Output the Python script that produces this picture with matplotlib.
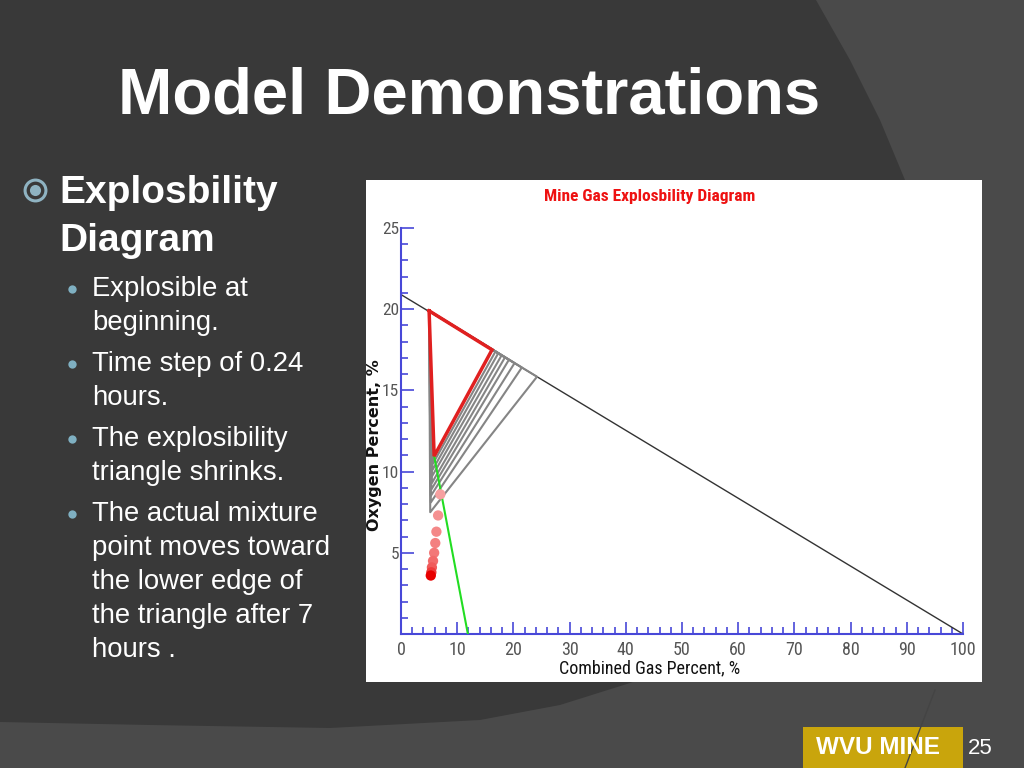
import matplotlib
matplotlib.use("Agg")
import matplotlib.pyplot as plt
from matplotlib import font_manager as fm
from matplotlib.patches import Polygon, Rectangle
from matplotlib.ticker import MultipleLocator, FixedLocator

# ---------------- data ----------------
air_x = [0, 100]
air_y = [20.9, 0]

top_vertex = (5.0, 19.9)
red_right = (16.2, 17.5)
red_nose = (5.9, 10.95)

gray_right_x = [16.8, 17.3, 17.9, 18.5, 19.2, 20.2, 21.5, 24.2]
gray_nose_x = [5.7, 5.6, 5.5, 5.5, 5.4, 5.3, 5.3, 5.2]
gray_nose_y = [10.5, 10.1, 9.7, 9.3, 8.9, 8.5, 8.1, 7.5]

green_x = [5.9, 11.9]
green_y = [10.95, 0]

dot_x = [7.0, 6.6, 6.3, 6.1, 5.9, 5.7, 5.5, 5.4, 5.3]
dot_y = [8.6, 7.3, 6.3, 5.6, 5.0, 4.5, 4.1, 3.8, 3.6]
dot_colors = ['#f6a0a0', '#f59090', '#f48888', '#f38080', '#f37878',
              '#f26a6a', '#f05a5a', '#ee3a3a', '#e80000']

x_major = [0, 10, 20, 30, 40, 50, 60, 70, 80, 90, 100]
y_major = [5, 10, 15, 20, 25]

title = "Model Demonstrations"
bullets = [
    ["Explosible at", "beginning."],
    ["Time step of 0.24", "hours."],
    ["The explosibility", "triangle shrinks."],
    ["The actual mixture", "point moves toward", "the lower edge of",
     "the triangle after 7", "hours ."],
]


# ---------------- fonts ----------------
def pick_font(keys, bold=False):
    for key in keys:
        for f in fm.fontManager.ttflist:
            fname = f.fname.replace(' ', '').replace('-', '').replace('_', '').lower()
            is_bold = (f.weight in ('bold', 700, 'heavy', 800)) or ('bold' in fname)
            if key in fname and is_bold == bold and 'italic' not in fname \
                    and 'oblique' not in fname:
                return fm.FontProperties(fname=f.fname)
    return fm.FontProperties(family='DejaVu Sans',
                             weight='bold' if bold else 'normal')


narrow_keys = ['liberationsansnarrow', 'robotocondensed', 'dejavusanscondensed',
               'opensanscondensed', 'notosanscondensed']
narrow = pick_font(narrow_keys)
narrow_b = pick_font(narrow_keys, bold=True)
sans_family = ['Liberation Sans', 'DejaVu Sans']


def fp(base, size):
    p = base.copy()
    p.set_size(size)
    return p


# ---------------- figure / slide background ----------------
fig = plt.figure(figsize=(10.24, 7.68), dpi=100)
fig.patch.set_facecolor('#4a4a4a')
bg = fig.add_axes([0, 0, 1, 1])
bg.set_xlim(0, 1024)
bg.set_ylim(768, 0)
bg.axis('off')
dark = Polygon([(0, 0), (816, 0), (850, 60), (880, 120), (905, 180),
                (935, 260), (955, 360), (960, 600), (700, 660), (630, 683),
                (560, 705), (480, 720), (330, 728), (150, 725), (0, 722)],
               closed=True, facecolor='#393939', edgecolor='none')
bg.add_patch(dark)
bg.plot([905, 935], [768, 690], color='#444444', lw=1)

# chart white panel
bg.add_patch(Rectangle((366, 180), 616, 502, facecolor='white', edgecolor='none'))

# slide title
bg.text(469, 97, title, color='white', fontsize=47, fontweight='bold',
        family=sans_family, ha='center', va='center')

# main bullet
bg.plot([35], [190], marker='o', ms=15, mfc='none', mec='#8fb3c2', mew=2.2)
bg.plot([35], [190], marker='o', ms=8, mfc='#8fb3c2', mec='none')
bg.text(59, 193, "Explosbility", color='white', fontsize=28, fontweight='bold',
        family=sans_family, ha='left', va='center')
bg.text(59, 241, "Diagram", color='white', fontsize=28, fontweight='bold',
        family=sans_family, ha='left', va='center')

y = 289
for group in bullets:
    bg.plot([72], [y], marker='o', ms=6, mfc='#7fb0c2', mec='none')
    for line in group:
        bg.text(92, y, line, color='white', fontsize=19.8, family=sans_family,
                ha='left', va='center')
        y += 34
    y += 7

# footer
bg.add_patch(Rectangle((803, 727), 160, 41, facecolor='#c9a50c', edgecolor='none'))
bg.text(878, 748, "WVU MINE", color='white', fontsize=17.5, fontweight='bold',
        family=sans_family, ha='center', va='center')
bg.text(980, 748, "25", color='white', fontsize=16, family=sans_family,
        ha='center', va='center')

# ---------------- chart ----------------
ax = fig.add_axes([401 / 1024, (768 - 634) / 768, 562 / 1024, 406 / 768])
ax.set_xlim(0, 100)
ax.set_ylim(0, 25)
ax.set_facecolor('white')
for s in ['top', 'right']:
    ax.spines[s].set_visible(False)
for s in ['left', 'bottom']:
    ax.spines[s].set_color('#4848d8')
    ax.spines[s].set_linewidth(1.5)

ax.xaxis.set_major_locator(FixedLocator(x_major))
ax.xaxis.set_minor_locator(MultipleLocator(2))
ax.yaxis.set_major_locator(FixedLocator(y_major))
ax.yaxis.set_minor_locator(MultipleLocator(1))
ax.tick_params(which='both', direction='in', color='#4848d8', width=1.2,
               labelcolor='#555555')
ax.tick_params(which='major', length=9)
ax.tick_params(which='minor', length=5)
ax.tick_params(axis='x', which='major', pad=5)
ax.tick_params(axis='y', which='major', pad=1.5)
for lab in ax.get_xticklabels():
    lab.set_fontproperties(fp(narrow, 13))
for lab in ax.get_yticklabels():
    lab.set_fontproperties(fp(narrow, 12.5))

# air line
ax.plot(air_x, air_y, color='#333333', lw=1, zorder=2)

# shrinking gray triangles
for rx, nx, ny in zip(gray_right_x, gray_nose_x, gray_nose_y):
    ry = air_y[0] * (1 - rx / 100.0)
    ax.plot([top_vertex[0], rx, nx, top_vertex[0]],
            [top_vertex[1], ry, ny, top_vertex[1]],
            color='#858585', lw=1.5, zorder=3)

# green line
ax.plot(green_x, green_y, color='#22dd22', lw=1.5, zorder=4)

# red (initial) triangle
ax.plot([top_vertex[0], red_right[0], red_nose[0], top_vertex[0]],
        [top_vertex[1], red_right[1], red_nose[1], top_vertex[1]],
        color='#e02020', lw=2.5, zorder=5, solid_joinstyle='miter')

# mixture points
ax.scatter(dot_x, dot_y, s=55, c=dot_colors, edgecolors='none', zorder=6)

# labels
fig.text(650 / 1024, 1 - 197 / 768, "Mine Gas Explosbility Diagram",
         color='#ee1111', fontproperties=fp(narrow_b, 12.5),
         ha='center', va='center')
fig.text(650 / 1024, 1 - 668 / 768, "Combined Gas Percent, %",
         color='#111111', fontproperties=fp(narrow, 13),
         ha='center', va='center')
fig.text(375 / 1024, 1 - 445 / 768, "Oxygen Percent, %",
         color='#111111', fontsize=11.5, family=['DejaVu Sans'], fontweight='bold',
         rotation=90, ha='center', va='center')

fig.savefig('out.png', dpi=100, facecolor=fig.get_facecolor())
